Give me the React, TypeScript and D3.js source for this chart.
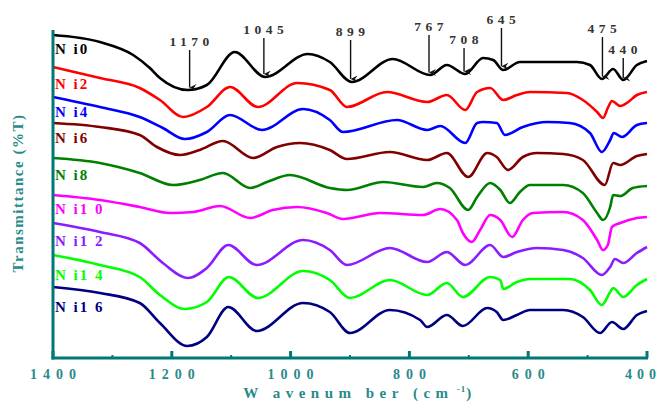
import React from "react";
import * as d3 from "d3";

// FTIR spectra, Ni doped samples, stacked (T is offset transmittance, arbitrary units)
const names = ["N i0", "N i2", "N i4", "N i6", "N i8", "N i1 0", "N i1 2", "N i1 4", "N i1 6"];
const colors = ["#000000", "#ff0000", "#0000ff", "#800000", "#008000", "#ff00ff", "#8a1cff", "#00ff00", "#000080"];

const ni0 = [[1400,323],[1321,316],[1265,303],[1237,290],[1220,280],[1173,268],[1141,273],[1094,306],[1043,281],[971,304],[934,296],[897,276],[828,299],[765,283],[737,293],[706,284],[676,300],[659,298],[642,288],[614,296],[518,296],[496,293],[476,279],[457,289],[440,278],[417,293],[400,297]];
const ni2 = [[1400,291],[1321,280],[1254,270],[1220,258],[1181,241],[1141,251],[1102,271],[1055,251],[989,275],[934,268],[905,251],[838,266],[770,256],[737,263],[706,248],[686,266],[664,270],[642,258],[619,263],[597,266],[535,265],[508,258],[484,246],[474,240],[466,250],[459,257],[445,252],[434,255],[417,263],[400,266]];
const ni4 = [[1400,261],[1321,251],[1254,241],[1215,230],[1178,219],[1141,226],[1102,243],[1048,228],[979,249],[934,238],[912,226],[821,238],[770,228],[748,232],[706,215],[686,235],[676,236],[653,235],[639,223],[609,231],[568,236],[530,235],[496,225],[476,206],[462,218],[456,225],[442,221],[417,233],[400,235]];
const ni6 = [[1400,235],[1321,231],[1254,223],[1225,211],[1186,203],[1153,208],[1114,217],[1063,200],[1023,211],[984,215],[934,208],[905,199],[833,206],[770,198],[737,205],[701,181],[669,205],[653,201],[634,188],[609,201],[585,205],[541,204],[508,198],[471,173],[457,195],[445,193],[417,202],[400,204]];
const ni8 = [[1400,200],[1321,195],[1254,185],[1198,173],[1153,178],[1114,185],[1068,170],[1040,176],[1001,183],[934,170],[905,168],[844,176],[777,171],[754,175],[732,170],[701,148],[686,161],[664,175],[647,168],[631,155],[614,166],[597,173],[541,173],[508,165],[484,145],[474,138],[462,151],[457,163],[445,162],[424,170],[400,172]];
const ni10 = [[1400,163],[1321,158],[1254,151],[1203,145],[1164,146],[1119,152],[1068,140],[1030,148],[989,151],[939,145],[912,139],[849,145],[777,143],[748,149],[720,138],[710,125],[695,116],[681,128],[664,143],[647,138],[627,121],[609,138],[592,145],[541,146],[508,138],[484,118],[474,108],[466,113],[459,131],[445,135],[417,140],[400,141]];
const ni12 = [[1400,135],[1321,126],[1254,115],[1215,95],[1173,80],[1141,90],[1105,113],[1057,93],[979,118],[934,108],[905,93],[833,110],[770,96],[737,106],[706,93],[664,113],[642,101],[619,106],[585,110],[541,108],[508,100],[476,83],[462,91],[454,99],[440,95],[417,105],[400,111]];
const ni14 = [[1400,103],[1321,93],[1254,81],[1220,63],[1178,49],[1141,56],[1104,81],[1055,60],[979,87],[934,78],[900,60],[833,78],[770,63],[737,75],[710,61],[664,81],[647,78],[642,69],[619,76],[597,79],[530,79],[496,68],[476,53],[462,66],[457,70],[440,61],[417,73],[400,79]];
const ni16 = [[1400,71],[1321,65],[1254,55],[1220,35],[1174,12],[1141,21],[1105,51],[1057,27],[979,55],[934,46],[900,25],[833,48],[782,38],[770,31],[737,43],[710,32],[669,50],[653,46],[642,38],[619,43],[597,48],[541,48],[508,41],[479,25],[459,36],[440,29],[417,43],[400,47]];
const spectra = [ni0, ni2, ni4, ni6, ni8, ni10, ni12, ni14, ni16];

// band positions marked on the top spectrum
const bands = [1170, 1045, 899, 767, 708, 645, 475, 440];
const bandLabelY = [42, 30, 32, 27, 40, 20, 29, 50];

// curve label vertical centres (px)
const labelY = [49, 84, 112, 138, 175, 209, 241, 275, 307];

const W = 662;
const H = 406;
const teal = "#007878";
const tealText = "#2a8a8a";

const x = d3.scaleLinear().domain([1400, 400]).range([53, 647]);
const y = d3.scaleLinear().domain([0, 330]).range([358, 28]);

const line = d3.line<number[]>()
  .x(d => x(d[0]))
  .y(d => y(d[1]))
  .curve(d3.curveMonotoneX);

function valueAt(data: number[][], w: number) {
  for (let i = 0; i < data.length - 1; i++) {
    const a = data[i], b = data[i + 1];
    if (w <= a[0] && w >= b[0]) {
      const t = (a[0] - w) / (a[0] - b[0]);
      return a[1] + t * (b[1] - a[1]);
    }
  }
  return data[data.length - 1][1];
}

export default function App() {
  const serif = "'Liberation Serif', 'Times New Roman', serif";
  const minorTicks = x.ticks(10);
  const majorTicks = x.ticks(5);

  return (
    <svg width={W} height={H} style={{ position: "absolute", left: 0, top: 0, background: "#fff" }}>
      <defs>
        <marker id="arr" viewBox="0 0 8 8" refX="4" refY="8" markerWidth="7" markerHeight="8" orient="auto-start-reverse" markerUnits="userSpaceOnUse">
          <path d="M0,0 L4,8 L8,0 L4,3 Z" fill="#111" />
        </marker>
      </defs>

      {spectra.map((s, i) => (
        <path key={i} d={line(s) || ""} fill="none" stroke={colors[i]} strokeWidth={2.6} strokeLinejoin="round" />
      ))}

      {names.map((n, i) => (
        <text key={n} x={55} y={labelY[i] + 5} fill={colors[i]} fontFamily={serif} fontWeight="bold" fontSize={15} letterSpacing={2}>
          {n}
        </text>
      ))}

      {bands.map((b, i) => {
        const bx = x(b);
        const tipY = y(valueAt(ni0, b)) - 2;
        return (
          <g key={b}>
            <line x1={bx} x2={bx} y1={bandLabelY[i] + 8} y2={tipY} stroke="#111" strokeWidth={1.4} markerEnd="url(#arr)" />
            <text x={bx + 2} y={bandLabelY[i] + 4} textAnchor="middle" fill="#333" fontFamily={serif} fontWeight="bold" fontSize={13.5} letterSpacing={4.5}>
              {b}
            </text>
          </g>
        );
      })}

      {/* axes */}
      <line x1={x(1400)} x2={x(1400)} y1={y(328)} y2={y(0) + 1.5} stroke={teal} strokeWidth={3} />
      <line x1={x(1400) - 1.5} x2={x(400) + 1} y1={y(0)} y2={y(0)} stroke={teal} strokeWidth={3} />
      {minorTicks.map(t => (
        <line key={t} x1={x(t)} x2={x(t)} y1={y(0)} y2={y(0) - (t % 200 === 0 ? 7 : 3)} stroke={teal} strokeWidth={t % 200 === 0 ? 3 : 2} />
      ))}
      {majorTicks.map(t => (
        <text key={t} x={Math.min(x(t) + 3, 643)} y={379} textAnchor="middle" fill={tealText} fontFamily={serif} fontWeight="bold" fontSize={14} letterSpacing={t === 400 ? 5 : 6}>
          {t}
        </text>
      ))}

      <text x={360} y={398} textAnchor="middle" fill={tealText} fontFamily={serif} fontWeight="bold" fontSize={15} letterSpacing={5.5}>
        W avenum ber (cm
        <tspan dy={-6} fontSize={9} letterSpacing={1}>{" -1"}</tspan>
        <tspan dy={6}>)</tspan>
      </text>

      <text transform={`translate(23, 193) rotate(-90)`} textAnchor="middle" fill={tealText} fontFamily={serif} fontWeight="bold" fontSize={15} letterSpacing={1.5}>
        Transmittance (%T)
      </text>
    </svg>
  );
}
